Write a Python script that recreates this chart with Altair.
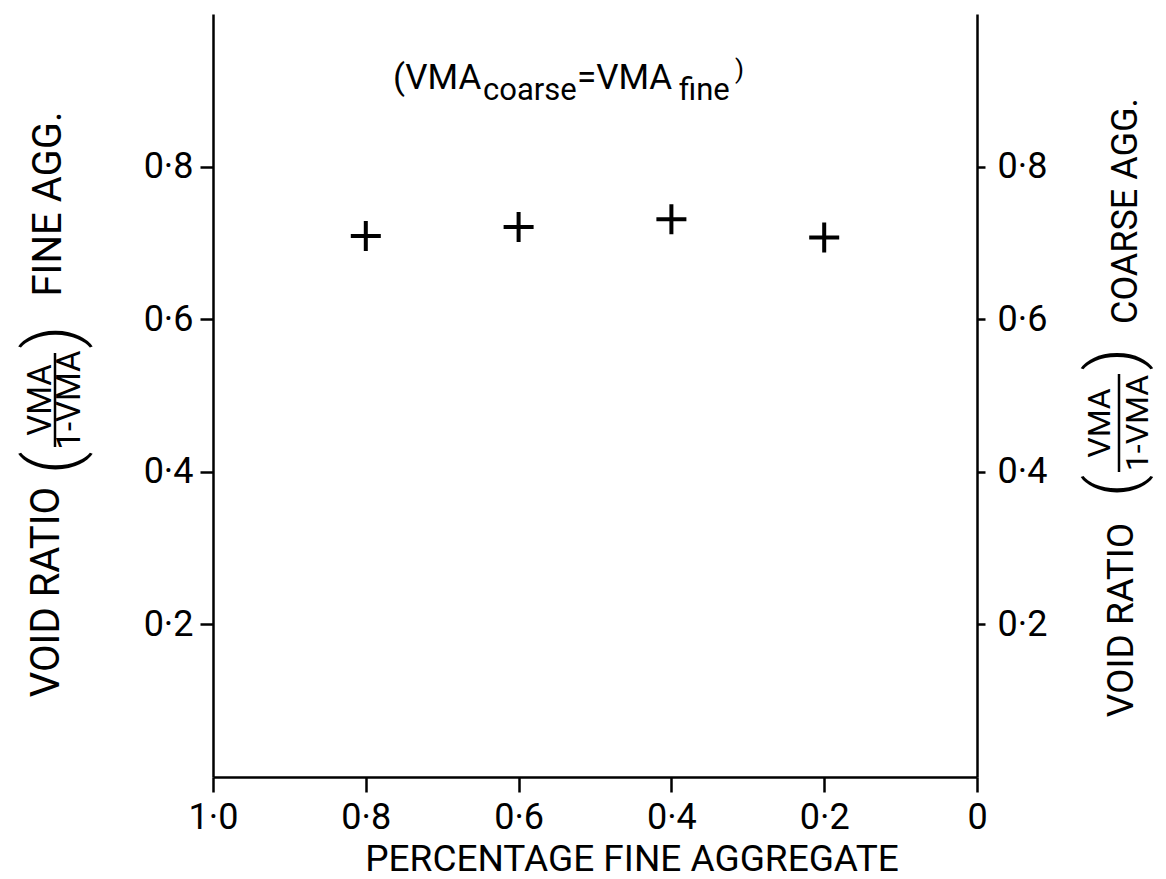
import altair as alt
import pandas as pd

# ---- data ----
fine_fraction = [0.8, 0.6, 0.4, 0.2]
void_ratio = [0.709, 0.721, 0.731, 0.707]
x_ticks = [1.0, 0.8, 0.6, 0.4, 0.2, 0.0]
y_ticks = [0.2, 0.4, 0.6, 0.8]

x_title = "PERCENTAGE FINE AGGREGATE"
left_title = ["VOID RATIO", "(", "VMA", "1-VMA", ")", "FINE AGG."]
right_title = ["VOID RATIO", "(", "VMA", "1-VMA", ")", "COARSE AGG."]
note = ["(VMA", "coarse", "=VMA", "fine", ")"]

df = pd.DataFrame({"fine": fine_fraction, "ratio": void_ratio})
one = pd.DataFrame({"k": [0]})

FONT = "Roboto"
W, H = 764, 763

xscale = alt.Scale(domain=[0, 1], reverse=True, nice=False, zero=False)
yscale = alt.Scale(domain=[0, 1], nice=False)

xlab = "datum.value == 0 ? '0' : replace(format(datum.value, '.1f'), '.', '\u00b7')"
ylab = "replace(format(datum.value, '.1f'), '.', '\u00b7')"

xaxis = alt.Axis(values=x_ticks, labelExpr=xlab, title=None, tickSize=15,
                 labelPadding=8, grid=False, orient="bottom")

plus = "M-1,0L1,0M0,-1L0,1"

points = alt.Chart(df).mark_point(
    shape=plus, filled=False, size=900, strokeWidth=4, color="black", opacity=1
).encode(
    x=alt.X("fine:Q", scale=xscale, axis=xaxis),
    y=alt.Y("ratio:Q", scale=yscale,
            axis=alt.Axis(values=y_ticks, labelExpr=ylab, title=None, tickSize=13,
                          labelPadding=7, grid=False, orient="left")),
)

right_axis = alt.Chart(df).mark_point(opacity=0).encode(
    x=alt.X("fine:Q", scale=xscale, axis=xaxis),
    y=alt.Y("ratio:Q", scale=yscale,
            axis=alt.Axis(values=y_ticks, labelExpr=ylab, title=None, tickSize=8,
                          labelPadding=12, grid=False, orient="right")),
)


def txt(s, x, y, size, angle=0, align="center", baseline="middle", weight="normal"):
    kw = dict(text=s, font=FONT, fontSize=size, color="black", align=align,
              baseline=baseline, fontWeight=weight)
    if angle:
        kw["angle"] = angle
    return alt.Chart(one).mark_text(**kw).encode(x=alt.value(x), y=alt.value(y))


def bar(x, y1, y2):
    return alt.Chart(one).mark_rule(color="black", strokeWidth=2.5).encode(
        x=alt.value(x), y=alt.value(y1), y2=alt.value(y2))


layers = [points, right_axis]

# x axis title
layers.append(txt(x_title, 419, 857, 37, baseline="alphabetic"))

# left y title (rotated, reading upwards)
layers += [
    txt(left_title[0], -166, 578, 40, angle=270),
    txt(left_title[1], -159, 449, 72, angle=270, weight=300),
    txt(left_title[2], -172, 386, 33, angle=270),
    bar(-158, 339, 433),
    txt(left_title[3], -143, 386, 33, angle=270),
    txt(left_title[4], -159, 323, 72, angle=270, weight=300),
    txt(left_title[5], -164, 190, 40, angle=270),
]

# right y title
layers += [
    txt(right_title[0], 909, 606, 37, angle=270),
    txt(right_title[1], 903, 472, 70, angle=270, weight=300),
    txt(right_title[2], 887, 409, 32, angle=270),
    bar(906, 360, 458),
    txt(right_title[3], 925, 409, 32, angle=270),
    txt(right_title[4], 903, 345, 70, angle=270, weight=300),
    txt(right_title[5], 913, 197, 36, angle=270),
]

# annotation (VMA_coarse = VMA_fine)
layers += [
    txt(note[0], 180, 75, 35, align="left", baseline="alphabetic"),
    txt(note[1], 270, 86, 31, align="left", baseline="alphabetic"),
    txt(note[2], 364, 75, 35, align="left", baseline="alphabetic"),
    txt(note[3], 466, 86, 31, align="left", baseline="alphabetic"),
    txt(note[4], 522, 64, 26, align="left", baseline="alphabetic"),
]

chart = alt.layer(*layers).resolve_scale(y="independent").properties(
    width=W, height=H,
    autosize=alt.AutoSizeParams(type="none"),
    padding={"left": 205, "top": 6, "right": 181, "bottom": 102},
    background="white",
).configure_view(stroke=None).configure_axis(
    labelFont=FONT, labelFontSize=36, labelColor="black",
    domainColor="black", domainWidth=2.5, tickColor="black", tickWidth=2.5,
    labelFlush=False, labelOverlap=False,
)

chart.save("out.html", embed_options={"renderer": "svg", "actions": False})
